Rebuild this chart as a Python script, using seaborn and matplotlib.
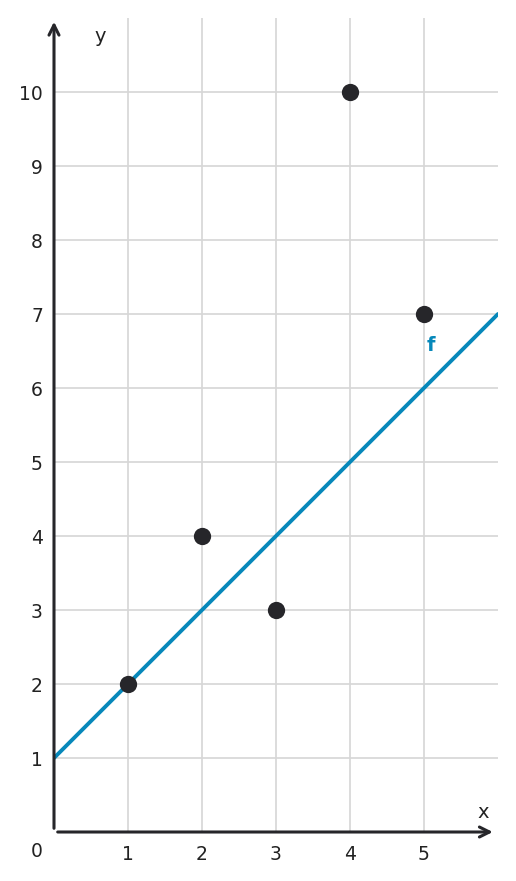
import matplotlib
matplotlib.use("Agg")
import matplotlib.pyplot as plt
import pandas as pd
import seaborn as sns

# data points
xs = [1, 2, 3, 4, 5]
ys = [2, 4, 3, 10, 7]

# line f: y = x + 1
line_x = [0, 6]
line_y = [1, 7]

xticks = [1, 2, 3, 4, 5]
yticks = [1, 2, 3, 4, 5, 6, 7, 8, 9, 10]

sns.set_style("whitegrid")
plt.rcParams['font.family'] = ['DejaVu Sans']

blue = "#0788ba"
dark = "#26262a"

fig = plt.figure(figsize=(5.16, 8.81), dpi=100)
ax = fig.add_axes([54 / 516, 49 / 881, 444 / 516, 814 / 881])

sns.lineplot(x=line_x, y=line_y, ax=ax, color=blue, linewidth=2.8, zorder=3)
sns.scatterplot(x=xs, y=ys, ax=ax, color=dark, s=155, edgecolor=dark, linewidth=0, zorder=4)

ax.set_xlim(0, 6)
ax.set_ylim(0, 11)
ax.set_xticks(xticks)
ax.set_yticks(yticks)
ax.set_xticklabels([str(t) for t in xticks])
ax.set_yticklabels([str(t) for t in yticks])
ax.grid(True, color="#d6d6d6", linewidth=1.2)
for s in ax.spines.values():
    s.set_visible(False)
ax.tick_params(direction='in', length=4, width=2, color=dark, labelsize=13.5,
               labelcolor="#222222", pad=8)
ax.tick_params(axis='x', pad=9)

# arrow axes
ax.annotate("", xy=(5.93, 0), xytext=(0.05, 0), xycoords='data',
            arrowprops=dict(arrowstyle="->", color=dark, lw=2.2,
                            mutation_scale=18, shrinkA=0, shrinkB=0),
            annotation_clip=False)
ax.annotate("", xy=(0, 10.95), xytext=(0, 0.05), xycoords='data',
            arrowprops=dict(arrowstyle="->", color=dark, lw=2.2,
                            mutation_scale=18, shrinkA=0, shrinkB=0),
            annotation_clip=False)

ax.text(5.80, 0.27, "x", fontsize=14, color="#222222", ha='center', va='center')
ax.text(0.62, 10.75, "y", fontsize=14, color="#222222", ha='center', va='center')
ax.text(-0.23, -0.27, "0", fontsize=13.5, color="#222222", ha='center', va='center',
        clip_on=False)
ax.text(5.09, 6.57, "f", fontsize=14, color=blue, fontweight='bold',
        ha='center', va='center')

fig.savefig("out.png", dpi=100)
